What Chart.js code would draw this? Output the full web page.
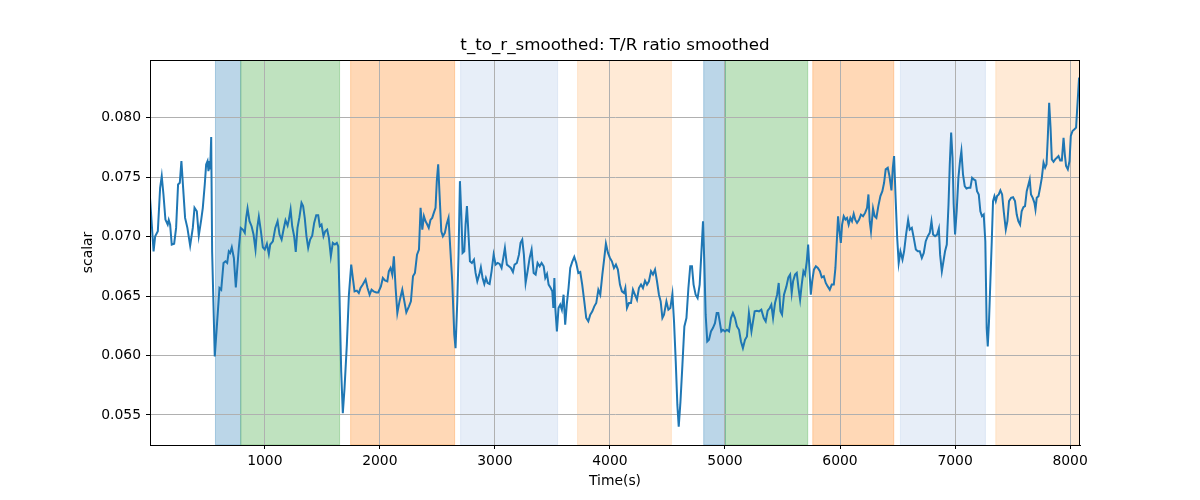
<!DOCTYPE html>
<html>
<head>
<meta charset="utf-8">
<script src="https://cdn.jsdelivr.net/npm/chart.js@4.4.1/dist/chart.umd.min.js"></script>
<style>
  html, body { margin: 0; background: #fff; }
  #wrap { width: 1200px; height: 500px; }
</style>
</head>
<body>
<div id="wrap"><canvas id="ratioChart" width="1200" height="500"></canvas></div>
<script>
const chartTitle = 't_to_r_smoothed: T/R ratio smoothed';
const xLabel = 'Time(s)';
const yLabel = 'scalar';
const xTicks = [1000, 2000, 3000, 4000, 5000, 6000, 7000, 8000];
const yTicks = [0.055, 0.060, 0.065, 0.070, 0.075, 0.080];

// shaded phases (time range + colour)
const bandStart = [571, 791, 1746, 2702, 3719, 4815, 5003, 5763, 6525, 7354];
const bandEnd   = [791, 1650, 2650, 3545, 4534, 5003, 5719, 6467, 7264, 8100];
const bandColor = ['31,119,180', '44,160,44', '255,127,14', '174,199,232', '255,187,120',
                   '31,119,180', '44,160,44', '255,127,14', '174,199,232', '255,187,120'];

const times = [
  2,33,47,70,90,104,119,136,156,165,
  177,191,212,229,246,261,275,290,307,327,
  351,374,389,409,426,447,461,478,490,502,
  510,519,525,534,542,565,586,606,621,641,
  658,673,687,699,713,731,748,763,774,791,
  809,826,838,850,867,885,902,919,934,948,
  966,983,1000,1018,1035,1047,1070,1091,1111,1128,
  1146,1163,1180,1198,1209,1224,1238,1255,1269,1284,
  1301,1319,1333,1347,1362,1377,1394,1412,1429,1447,
  1464,1478,1493,1510,1525,1542,1557,1574,1591,1609,
  1626,1638,1649,1664,1678,1693,1713,1731,1751,1765,
  1780,1800,1817,1832,1852,1876,1893,1911,1928,1945,
  1969,1986,2009,2026,2044,2065,2078,2093,2108,2122,
  2137,2152,2172,2195,2213,2230,2253,2270,2288,2305,
  2323,2340,2354,2369,2383,2397,2412,2425,2440,2455,
  2469,2484,2495,2507,2519,2534,2548,2565,2580,2597,
  2612,2629,2647,2658,2673,2684,2696,2708,2719,2734,
  2745,2757,2769,2783,2800,2818,2832,2847,2864,2878,
  2893,2908,2922,2937,2954,2971,2989,3006,3024,3041,
  3058,3073,3087,3104,3122,3139,3157,3171,3191,3209,
  3223,3238,3252,3267,3284,3302,3319,3337,3354,3371,
  3389,3406,3424,3438,3453,3467,3485,3499,3508,3517,
  3525,3539,3553,3568,3582,3597,3611,3626,3640,3655,
  3672,3690,3707,3725,3742,3759,3777,3794,3812,3829,
  3847,3864,3881,3899,3916,3934,3951,3965,3983,4000,
  4017,4035,4052,4069,4087,4104,4122,4134,4148,4165,
  4183,4200,4217,4235,4252,4270,4287,4305,4322,4339,
  4357,4374,4392,4409,4426,4441,4456,4470,4491,4508,
  4525,4543,4557,4572,4586,4598,4613,4630,4647,4665,
  4682,4698,4713,4727,4745,4762,4780,4794,4809,4820,
  4832,4846,4861,4878,4895,4913,4928,4942,4954,4968,
  4982,5000,5017,5035,5052,5069,5087,5104,5122,5139,
  5156,5174,5191,5208,5230,5244,5258,5278,5296,5316,
  5337,5354,5371,5389,5403,5418,5435,5453,5467,5482,
  5496,5513,5534,5551,5566,5580,5592,5609,5624,5639,
  5653,5667,5682,5696,5711,5723,5735,5746,5758,5773,
  5790,5807,5825,5841,5859,5876,5893,5911,5928,5946,
  5960,5972,5983,5995,6007,6018,6032,6047,6061,6075,
  6090,6104,6119,6133,6148,6165,6182,6200,6218,6235,
  6247,6258,6269,6287,6301,6316,6333,6351,6368,6383,
  6397,6415,6430,6447,6459,6470,6482,6497,6510,6525,
  6543,6557,6574,6592,6606,6624,6641,6659,6676,6693,
  6711,6728,6745,6763,6780,6795,6809,6826,6844,6859,
  6870,6885,6899,6913,6928,6943,6954,6966,6978,6988,
  7000,7014,7029,7043,7055,7069,7084,7099,7116,7133,
  7148,7162,7177,7191,7206,7220,7234,7249,7263,7275,
  7284,7295,7307,7319,7330,7342,7354,7365,7380,7394,
  7409,7423,7441,7455,7469,7487,7504,7521,7536,7550,
  7565,7579,7594,7608,7623,7638,7649,7660,7675,7690,
  7699,7710,7725,7739,7754,7769,7783,7795,7806,7818,
  7830,7841,7856,7870,7885,7899,7914,7928,7943,7954,
  7965,7980,7995,8006,8021,8038,8052,8064,8078
];

const ratio = [
  .07326,.06876,.07003,.07045,.0741,.07508,.07354,.07143,.07101,.0714,
  .071,.06933,.0694,.07073,.07438,.07452,.07635,.0741,.07157,.07073,
  .06924,.07073,.07242,.07213,.07008,.0714,.07242,.07438,.07607,.07635,
  .0755,.07635,.07565,.07837,.06876,.05992,.06287,.06567,.06553,.06778,
  .06792,.06778,.06876,.06862,.0691,.0682,.06573,.06764,.06904,.07073,
  .07059,.07031,.07157,.07236,.07129,.07087,.07017,.06891,.07073,.07166,
  .07045,.0691,.06891,.0694,.06854,.06933,.0696,.07073,.07129,.07017,
  .06975,.07059,.07138,.07093,.0714,.07228,.07087,.07003,.06871,.07073,
  .07163,.07284,.07256,.07157,.07003,.06904,.06975,.07008,.07115,.0718,
  .0718,.07087,.07101,.07003,.07045,.07059,.06989,.06834,.06947,.06933,
  .06947,.06918,.06511,.05865,.05514,.05725,.0609,.06511,.06764,.06652,
  .06539,.06545,.06525,.06567,.06596,.06638,.06567,.06511,.06553,.06539,
  .0653,.0653,.06581,.06652,.06632,.06624,.06708,.06736,.0668,.06834,
  .06567,.06357,.06461,.06553,.06455,.06362,.06413,.06455,.06666,.06694,
  .06848,.06891,.07242,.07059,.07171,.07129,.07101,.07073,.0714,.07157,
  .07199,.07242,.07466,.07607,.07354,.07045,.07003,.07031,.07101,.07157,
  .06904,.06624,.06174,.06062,.06455,.06848,.07466,.07185,.06862,.06876,
  .07101,.07256,.07045,.06792,.06778,.06806,.06694,.06624,.0668,.06742,
  .06652,.06601,.06652,.0661,.06601,.06708,.06848,.06764,.06778,.0677,
  .06736,.0682,.06904,.06764,.0675,.06736,.06702,.06764,.06778,.06848,
  .06947,.06975,.06848,.0661,.06708,.0682,.06891,.06694,.0668,.06778,
  .0675,.06778,.0675,.06652,.06685,.06596,.06567,.06539,.06399,.06652,
  .06399,.06202,.06399,.06427,.06385,.06511,.06258,.06441,.06567,.06736,
  .06787,.06829,.06778,.06694,.06702,.06596,.06455,.06315,.06287,.06343,
  .06371,.06413,.06441,.06553,.06511,.0668,.0682,.06941,.06862,.0682,
  .06792,.06736,.06764,.06722,.06596,.06539,.06525,.06567,.0640,.06441,
  .06441,.06553,.06511,.06469,.06567,.06596,.06567,.06629,.06596,.06624,
  .06708,.0668,.06722,.06624,.06511,.06455,.06315,.06343,.06455,.06385,
  .06399,.06517,.06287,.05949,.05584,.05402,.05612,.05921,.06244,.06315,
  .06567,.0675,.0675,.06596,.06511,.06483,.06596,.06848,.07129,.06792,
  .06343,.06118,.06132,.06202,.0623,.06272,.06357,.06357,.06287,.06202,
  .06216,.06202,.06216,.06202,.06315,.06357,.06315,.06244,.06216,.06118,
  .06062,.06132,.0616,.06357,.06202,.06287,.06371,.06376,.06371,.06385,
  .06315,.06287,.06376,.06399,.06427,.06315,.06441,.06511,.0661,.06371,
  .06343,.06511,.06581,.06657,.0668,.06525,.06624,.0668,.06694,.06567,
  .06469,.06596,.06708,.0668,.06792,.06933,.06708,.06511,.06624,.06722,
  .0675,.06736,.06708,.06657,.06666,.0661,.06581,.06553,.06596,.06596,
  .06736,.06961,.07171,.07045,.06947,.07101,.07171,.07143,.07157,.07101,
  .07157,.07129,.07191,.0714,.07115,.0714,.07185,.07171,.07199,.07242,
  .07354,.07129,.07045,.07236,.07171,.07157,.07256,.0734,.07382,.07452,
  .07565,.07579,.07508,.07388,.07579,.07677,.07354,.06989,.06778,.06876,
  .06806,.06876,.07017,.0714,.07059,.07073,.06989,.06891,.06876,.06876,
  .0682,.06862,.06961,.07003,.07031,.07129,.07017,.07003,.07017,.07067,
  .06848,.06708,.06792,.06876,.06933,.0727,.07607,.07874,.07663,.0727,
  .07017,.07213,.07494,.07635,.07719,.07522,.07424,.07404,.0741,.0741,
  .07494,.0748,.07472,.07382,.07354,.07213,.07171,.07185,.06961,.0623,
  .06076,.06287,.06624,.06961,.07298,.0734,.07298,.0734,.07354,.07388,
  .07354,.07213,.07059,.07129,.07298,.07326,.07331,.07298,.07185,.07129,
  .07101,.07213,.07247,.07256,.07382,.07438,.0748,.07354,.07326,.07284,
  .07228,.07326,.0734,.0741,.07494,.07621,.07579,.07607,.07831,.08126,
  .07916,.07649,.07629,.07649,.07663,.07677,.0764,.0764,.07831,.07691,
  .07593,.07565,.07635,.07846,.07888,.07902,.07916,.08112,.08337
];

const FONT = '"DejaVu Sans", sans-serif';

// vertical spans, drawn under the grid
const bandsPlugin = {
  id: 'bands',
  beforeDraw(chart) {
    const { ctx, chartArea: a, scales: { x } } = chart;
    ctx.save();
    ctx.beginPath();
    ctx.rect(a.left, a.top, a.right - a.left, a.bottom - a.top);
    ctx.clip();
    bandStart.forEach((s, i) => {
      const x0 = x.getPixelForValue(s);
      const x1 = x.getPixelForValue(bandEnd[i]);
      ctx.fillStyle = 'rgba(' + bandColor[i] + ',0.3)';
      ctx.fillRect(x0, a.top, x1 - x0, a.bottom - a.top);
      ctx.strokeStyle = 'rgba(' + bandColor[i] + ',0.3)';
      ctx.lineWidth = 1;
      ctx.strokeRect(x0, a.top, x1 - x0, a.bottom - a.top);
    });
    ctx.restore();
  }
};

// frame + titles
const framePlugin = {
  id: 'frame',
  afterDraw(chart) {
    const { ctx, chartArea: a } = chart;
    ctx.save();
    ctx.strokeStyle = '#000';
    ctx.lineWidth = 1;
    ctx.strokeRect(Math.round(a.left) + 0.5, Math.round(a.top) + 0.5,
                   Math.round(a.right - a.left) - 1, Math.round(a.bottom - a.top));
    ctx.fillStyle = '#000';
    ctx.textAlign = 'center';
    ctx.textBaseline = 'middle';
    ctx.font = '16.7px ' + FONT;
    ctx.fillText(chartTitle, (a.left + a.right) / 2, 46);
    ctx.font = '13.9px ' + FONT;
    ctx.fillText(xLabel, (a.left + a.right) / 2, 481);
    ctx.translate(88, (a.top + a.bottom) / 2);
    ctx.rotate(-Math.PI / 2);
    ctx.fillText(yLabel, 0, 0);
    ctx.restore();
  }
};

const ctx = document.getElementById('ratioChart').getContext('2d');

const ratioChart = new Chart(ctx, {
  type: 'line',
  data: {
    datasets: [{
      data: times.map((t, i) => ({ x: t, y: ratio[i] })),
      borderColor: '#1f77b4',
      borderWidth: 2,
      pointRadius: 0,
      tension: 0,
      fill: false
    }]
  },
  options: {
    responsive: false,
    animation: false,
    layout: { padding: { top: 60, right: 120, left: 0, bottom: 0 } },
    plugins: {
      legend: { display: false },
      tooltip: { enabled: false },
      title: { display: false }
    },
    scales: {
      x: {
        type: 'linear',
        min: 2,
        max: 8086,
        afterBuildTicks: s => { s.ticks = xTicks.map(v => ({ value: v })); },
        afterFit: s => { s.height = 55; },
        ticks: { color: '#000', font: { family: FONT, size: 13.9 }, maxRotation: 0, padding: 4,
                 callback: v => String(v) },
        grid: { color: '#b0b0b0', lineWidth: 1, tickColor: '#000', tickLength: 4 },
        border: { color: '#000', width: 1 }
      },
      y: {
        min: 0.05247,
        max: 0.08485,
        afterBuildTicks: s => { s.ticks = yTicks.map(v => ({ value: v })); },
        afterFit: s => { s.width = 150; },
        ticks: { color: '#000', font: { family: FONT, size: 13.9 }, padding: 5,
                 callback: v => v.toFixed(3) },
        grid: { color: '#b0b0b0', lineWidth: 1, tickColor: '#000', tickLength: 4 },
        border: { color: '#000', width: 1 }
      }
    }
  },
  plugins: [bandsPlugin, framePlugin]
});
</script>
</body>
</html>
